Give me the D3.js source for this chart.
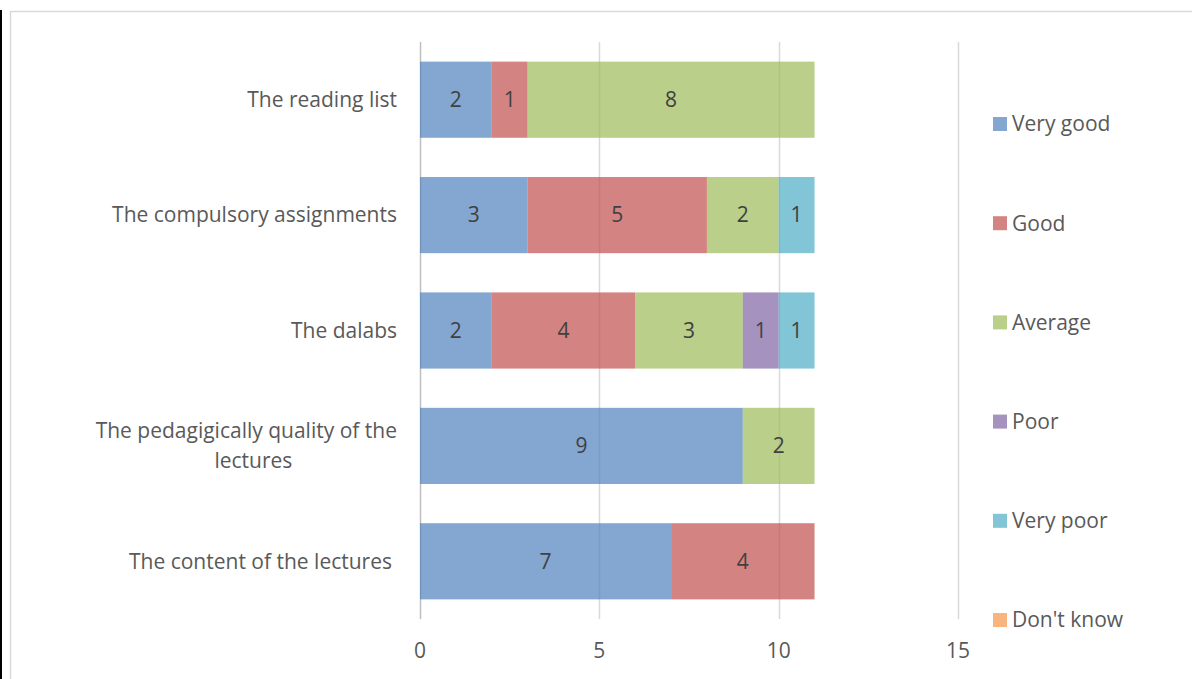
<!DOCTYPE html>
<html><head><meta charset="utf-8">
<script src="https://cdn.jsdelivr.net/npm/d3@7"></script>
<style>
html,body{margin:0;padding:0;background:#fff;}
svg text{font-family:"Open Sans",sans-serif;}
</style></head>
<body><svg id="chart" width="1192" height="679"></svg>
<script>
const categories = ["The reading list","The compulsory assignments","The dalabs","The pedagigically quality of the lectures","The content of the lectures"];
const seriesNames = ["Very good","Good","Average","Poor","Very poor","Don't know"];
const veryGood = [2,3,2,9,7];
const good = [1,5,4,0,4];
const average = [8,2,3,2,0];
const poor = [0,0,1,0,0];
const veryPoor = [0,1,1,0,0];
const dontKnow = [0,0,0,0,0];
const xTicks = [0,5,10,15];
const colors = ["#4F81BD","#C0504D","#9BBB59","#8064A2","#4BACC6","#F79646"];

const FS = 21;
const seriesValues = [veryGood,good,average,poor,veryPoor,dontKnow];
const rows = categories.map((c,i)=>{const o={cat:c}; seriesNames.forEach((s,j)=>o[s]=seriesValues[j][i]); return o;});
const stack = d3.stack().keys(seriesNames)(rows);

const svg = d3.select("#chart");
// frame
svg.append("rect").attr("x",0).attr("y",10).attr("width",2).attr("height",669).attr("fill","#000");
svg.append("rect").attr("x",10.5).attr("y",11.5).attr("width",1200).attr("height",700).attr("fill","none").attr("stroke","#d9d9d9").attr("stroke-width",1.5);

const x = d3.scaleLinear().domain([0,15]).range([420,958]);
const y = d3.scaleBand().domain(categories).range([42,619]).paddingInner(0.34).paddingOuter(0.17);

// gridlines
svg.append("g").selectAll("line").data(xTicks).join("line")
  .attr("x1",d=>Math.round(x(d))+0.5).attr("x2",d=>Math.round(x(d))+0.5)
  .attr("y1",42).attr("y2",619)
  .attr("stroke",d=>d===0?"#bfbfbf":"#d9d9d9").attr("stroke-width",1.5);

// tick labels
svg.append("g").selectAll("text").data(xTicks).join("text")
  .attr("x",d=>x(d)).attr("y",658).attr("text-anchor","middle")
  .attr("font-size",FS).attr("fill","#595959").text(d=>d);

// bars
const g = svg.append("g");
stack.forEach((layer,j)=>{
  g.append("g").selectAll("rect").data(layer).join("rect")
    .attr("x",d=>x(d[0])).attr("width",d=>x(d[1])-x(d[0]))
    .attr("y",d=>y(d.data.cat)).attr("height",y.bandwidth())
    .attr("fill",colors[j]).attr("fill-opacity",0.7);
});
stack.forEach((layer,j)=>{
  g.append("g").selectAll("text").data(layer.filter(d=>d[1]-d[0]>0)).join("text")
    .attr("x",d=>(x(d[0])+x(d[1]))/2).attr("y",d=>y(d.data.cat)+y.bandwidth()/2)
    .attr("dy","0.35em").attr("text-anchor","middle")
    .attr("font-size",FS).attr("fill","#404040").text(d=>d[1]-d[0]);
});

// category labels
const lab = svg.append("g");
categories.forEach(c=>{
  const cy = y(c)+y.bandwidth()/2;
  if(c.startsWith("The pedagigically")){
    const t1 = lab.append("text").attr("x",397).attr("y",cy-15).attr("dy","0.35em")
      .attr("text-anchor","end").attr("font-size",FS).attr("fill","#595959").text("The pedagigically quality of the");
    const w = t1.node().getComputedTextLength();
    lab.append("text").attr("x",397-w/2+7).attr("y",cy+15).attr("dy","0.35em")
      .attr("text-anchor","middle").attr("font-size",FS).attr("fill","#595959").text("lectures");
  } else {
    lab.append("text").attr("x",c==="The content of the lectures"?392:397).attr("y",cy).attr("dy","0.35em")
      .attr("text-anchor","end").attr("font-size",FS).attr("fill","#595959").text(c);
  }
});

// legend
const leg = svg.append("g").selectAll("g").data(seriesNames).join("g")
  .attr("transform",(d,i)=>`translate(993,${124+i*99.2})`);
leg.append("rect").attr("x",0).attr("y",-7).attr("width",14).attr("height",14)
  .attr("fill",(d,i)=>colors[i]).attr("fill-opacity",0.7);
leg.append("text").attr("x",19).attr("y",0).attr("dy","0.35em")
  .attr("font-size",FS).attr("fill","#595959").text(d=>d);
</script></body></html>
